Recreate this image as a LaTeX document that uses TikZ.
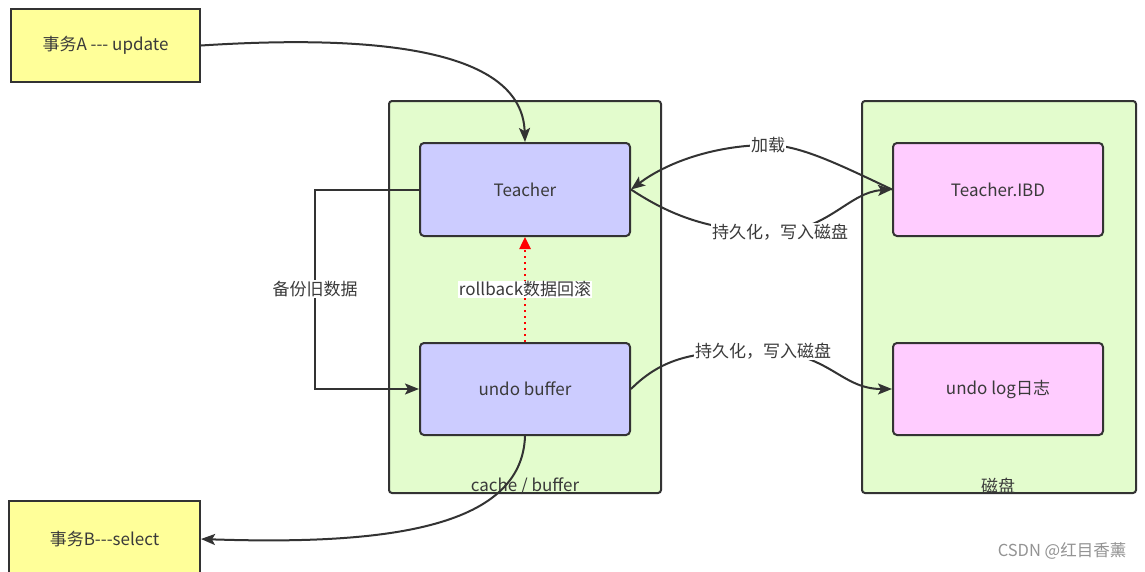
\documentclass[tikz,border=0pt]{standalone}
\usepackage{fontspec}
\setmainfont{Noto Sans CJK SC}[Ligatures=TeXOff]
\usetikzlibrary{arrows.meta}
\definecolor{ink}{HTML}{333333}
\definecolor{txt}{HTML}{3A3A3A}
\definecolor{yel}{HTML}{FFFF99}
\definecolor{grn}{HTML}{E3FCCD}
\definecolor{blu}{HTML}{CCCCFF}
\definecolor{pnk}{HTML}{FFCCFF}
\tikzset{
  fnt/.style={font=\fontsize{17}{20}\selectfont},
  base/.style={draw=ink, line width=2pt, text=txt, fnt, inner sep=0pt},
  tx/.style={base, fill=yel, minimum width=189pt, minimum height=73pt},
  cont/.style={base, fill=grn, rounded corners=3pt, minimum width=272pt, minimum height=392pt},
  inb/.style={base, fill=blu, rounded corners=4pt, minimum width=210pt, minimum height=92pt},
  inp/.style={base, fill=pnk, rounded corners=4pt, minimum width=210pt, minimum height=92pt},
  lbl/.style={fill=white, text=txt, inner sep=1pt, fnt},
  clbl/.style={text=txt, inner sep=0pt, fnt},
  conn/.style={draw=ink, line width=2pt, -{Stealth[length=14pt,width=11pt,inset=3pt]}},
}
\begin{document}
\begin{tikzpicture}[x=1pt, y=-1pt]
\clip (0,0) rectangle (1145,571);
\fill[white] (0,0) rectangle (1145,571);
% containers
\node[cont] (cache) at (525,297) {};
\node[cont, minimum width=274pt] (disk) at (999,297) {};
\node[clbl] (cachel) at (525,486) {cache / buffer};
\node[clbl] (diskl) at (998,486) {磁盘};
% boxes
\node[tx] (A) at (105.5,45.5) {事务A --- update};
\node[tx, minimum width=191pt, minimum height=76pt] (B) at (104.5,539) {事务B---select};
\node[inb, minimum height=93pt] (T) at (525,189.5) {Teacher};
\node[inb] (U) at (525,389) {undo buffer};
\node[inp, minimum height=93pt] (IBD) at (998,189.5) {Teacher.IBD};
\node[inp] (LOG) at (998,389) {undo log日志};
% connectors
\draw[conn] (A.east) .. controls (380,34) and (522,50) .. (T.north);
\draw[conn] (T.west) -- ++(-104,0) |- node[pos=0.25,lbl]{备份旧数据} (U.west);
\draw[red, line width=2.5pt, dash pattern=on 2.5pt off 3.5pt, -{Triangle[length=12pt,width=11pt]}]
  (U.north) -- node[lbl]{rollback数据回滚} (T.south);
\draw[conn] (IBD.west) .. controls (840,165) and (800,145) .. (768,145)
  .. controls (720,145) and (670,160) .. (T.east);
\node[lbl] (jz) at (768,145) {加载};
\draw[conn] (T.east) .. controls (670,215) and (710,232) .. (780,232)
  .. controls (830,228) and (850,192) .. (IBD.west);
\node[lbl] (cj1) at (780,232) {持久化，写入磁盘};
\draw[conn] (U.east) .. controls (665,355) and (700,351) .. (763,351)
  .. controls (830,352) and (840,389) .. (LOG.west);
\node[lbl] (cj2) at (763,351) {持久化，写入磁盘};
\draw[conn] (U.south) .. controls (522,530) and (380,545) .. (B.east);
% watermark
\node[text=gray!85, inner sep=0pt, font=\fontsize{16.5}{20}\selectfont] (wm) at (1062,551) {CSDN @红目香薰};
\end{tikzpicture}
\end{document}
